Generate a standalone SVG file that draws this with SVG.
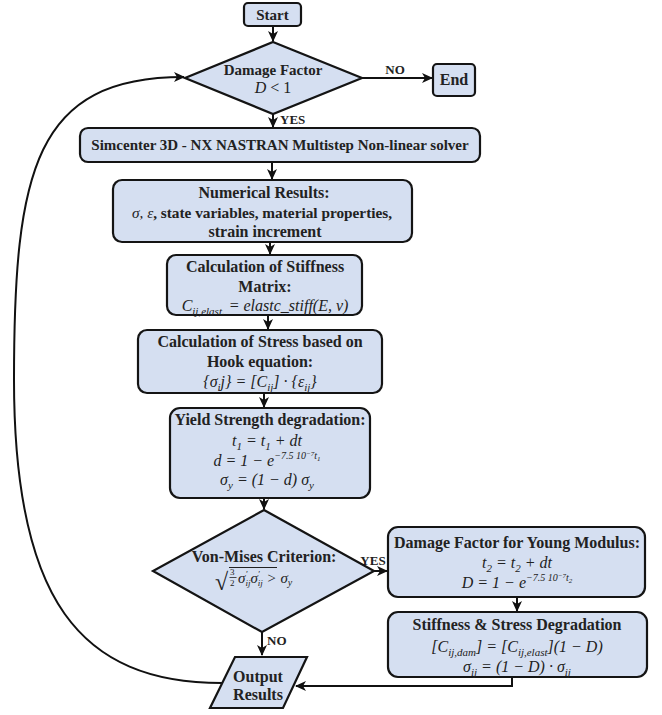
<svg xmlns="http://www.w3.org/2000/svg" width="662" height="715" viewBox="0 0 662 715">
<style>
.n{fill:#d5dff1;stroke:#141414;stroke-width:2.2;}
.t{font-family:"Liberation Serif",serif;font-weight:bold;font-size:16px;fill:#222;text-anchor:middle;}
.m{font-family:"Liberation Serif",serif;font-style:italic;font-weight:normal;font-size:16px;fill:#222;text-anchor:middle;}
.i{font-style:italic;font-weight:normal;}
.c{fill:none;stroke:#111;stroke-width:2;}
.l{font-family:"Liberation Serif",serif;font-weight:bold;font-size:13px;fill:#222;}
</style>
<defs>
<marker id="a" markerWidth="11" markerHeight="10" refX="10" refY="5" orient="auto" markerUnits="userSpaceOnUse"><path d="M0,0 L11,5 L0,10 L3,5z" fill="#111"/></marker>
</defs>
<g id="connectors">
<path class="c" d="M273,26 V41" marker-end="url(#a)"/>
<path class="c" d="M362,78 H432" marker-end="url(#a)"/>
<path class="c" d="M273,114 V127" marker-end="url(#a)"/>
<path class="c" d="M272,162 V179" marker-end="url(#a)"/>
<path class="c" d="M270,242 V254" marker-end="url(#a)"/>
<path class="c" d="M268,315 V329" marker-end="url(#a)"/>
<path class="c" d="M264,393 V407" marker-end="url(#a)"/>
<path class="c" d="M264,498 V509" marker-end="url(#a)"/>
<path class="c" d="M373,571 H387" marker-end="url(#a)"/>
<path class="c" d="M517,597 V611" marker-end="url(#a)"/>
<path class="c" d="M262,632 V655" marker-end="url(#a)"/>
<path class="c" d="M512,677 V686 H296" marker-end="url(#a)"/>
<path class="c" d="M222,683 C80,683 14,600 14,380 C14,170 35,77 184,77" marker-end="url(#a)"/>
<text class="l" x="395" y="74" text-anchor="middle">NO</text>
<text class="l" x="280" y="124">YES</text>
<text class="l" x="373" y="565" text-anchor="middle">YES</text>
<text class="l" x="267" y="645">NO</text>
</g>
<g id="start">
<rect class="n" x="244" y="3" width="57" height="23" rx="4"/>
<text class="t" x="272.5" y="19.5" style="font-size:15px">Start</text>
</g>
<g id="damage-factor">
<polygon class="n" points="273,42 362,78 273,114 185,78"/>
<text class="t" x="273" y="75" style="font-size:15px">Damage Factor</text>
<text class="m" x="273" y="93"><tspan>D</tspan><tspan font-style="normal"> &lt; 1</tspan></text>
</g>
<g id="end">
<rect class="n" x="433" y="64" width="42" height="32" rx="4"/>
<text class="t" x="454" y="85">End</text>
</g>
<g id="solver">
<rect class="n" x="80" y="128" width="400" height="34" rx="8"/>
<text class="t" x="280" y="150" style="font-size:15px">Simcenter 3D - NX NASTRAN Multistep Non-linear solver</text>
</g>
<g id="numerical-results">
<rect class="n" x="113" y="180" width="299" height="62" rx="9"/>
<text class="t" x="264" y="198">Numerical Results:</text>
<text class="t" x="262" y="218" style="font-size:15.3px"><tspan class="i">σ, ε</tspan>, state variables, material properties,</text>
<text class="t" x="265" y="237">strain increment</text>
</g>
<g id="stiffness-matrix">
<rect class="n" x="167" y="255" width="195" height="60" rx="9"/>
<text class="t" x="265" y="272">Calculation of Stiffness</text>
<text class="t" x="265" y="292">Matrix:</text>
<text class="m" x="265" y="311">C<tspan dy="4" font-size="11">ij,elast.</tspan><tspan dy="-4"> = elastc_stiff(E, ν)</tspan></text>
</g>
<g id="hook-stress">
<rect class="n" x="138" y="330" width="244" height="63" rx="9"/>
<text class="t" x="260" y="347">Calculation of Stress based on</text>
<text class="t" x="260" y="367">Hook equation:</text>
<text class="m" x="260" y="387">{σ<tspan dy="4" font-size="11">i</tspan><tspan dy="-4">j} = [C</tspan><tspan dy="4" font-size="11">ij</tspan><tspan dy="-4">] · {ε</tspan><tspan dy="4" font-size="11">ij</tspan><tspan dy="-4">}</tspan></text>
</g>
<g id="yield-degradation">
<rect class="n" x="170" y="408" width="200" height="90" rx="10"/>
<text class="t" x="270" y="425">Yield Strength degradation:</text>
<text class="m" x="267" y="446">t<tspan dy="4" font-size="11">1</tspan><tspan dy="-4"> = t</tspan><tspan dy="4" font-size="11">1</tspan><tspan dy="-4"> + dt</tspan></text>
<text class="m" x="267" y="466">d = 1 − e<tspan dy="-7" font-size="10">−7.5 10</tspan><tspan dy="-3" font-size="7">−7</tspan><tspan dy="3" font-size="10">t</tspan><tspan dy="2" font-size="7">1</tspan></text>
<text class="m" x="267" y="485">σ<tspan dy="4" font-size="11">y</tspan><tspan dy="-4"> = (1 − d) σ</tspan><tspan dy="4" font-size="11">y</tspan></text>
</g>
<g id="von-mises">
<polygon class="n" points="264,510 374,571 262,632 153,571"/>
<text class="t" x="264" y="562">Von-Mises Criterion:</text>
<text x="215" y="590" font-family="Liberation Serif, serif" font-size="24" fill="#222">√</text>
<path d="M229,567.5 H277" stroke="#222" stroke-width="1.1"/>
<text x="230" y="575" font-family="Liberation Serif, serif" font-size="9" fill="#222">3</text>
<path d="M229.5,577.5 H236.5" stroke="#222" stroke-width="0.8"/>
<text x="230" y="586" font-family="Liberation Serif, serif" font-size="9" fill="#222">2</text>
<text x="238" y="583" font-family="Liberation Serif, serif" font-style="italic" font-size="15" fill="#222">σ<tspan dy="-6" font-size="9">′</tspan><tspan dy="9" dx="-2" font-size="9">ij</tspan><tspan dy="-3">σ</tspan><tspan dy="-6" font-size="9">′</tspan><tspan dy="9" dx="-2" font-size="9">ij</tspan><tspan dy="-3"> &gt; σ</tspan><tspan dy="3" font-size="10">y</tspan></text>
</g>
<g id="damage-young">
<rect class="n" x="388" y="527" width="257" height="70" rx="10"/>
<text class="t" x="517" y="548">Damage Factor for Young Modulus:</text>
<text class="m" x="517" y="568">t<tspan dy="4" font-size="11">2</tspan><tspan dy="-4"> = t</tspan><tspan dy="4" font-size="11">2</tspan><tspan dy="-4"> + dt</tspan></text>
<text class="m" x="517" y="588">D = 1 − e<tspan dy="-7" font-size="10">−7.5 10</tspan><tspan dy="-3" font-size="7">−7</tspan><tspan dy="3" font-size="10">t</tspan><tspan dy="2" font-size="7">2</tspan></text>
</g>
<g id="stiffness-stress-degradation">
<rect class="n" x="388" y="612" width="259" height="65" rx="10"/>
<text class="t" x="517" y="630">Stiffness &amp; Stress Degradation</text>
<text class="m" x="517" y="652">[C<tspan dy="4" font-size="11">ij,dam</tspan><tspan dy="-4">] = [C</tspan><tspan dy="4" font-size="11">ij,elast</tspan><tspan dy="-4">](1 − D)</tspan></text>
<text class="m" x="517" y="672">σ<tspan dy="4" font-size="11">ij</tspan><tspan dy="-4"> = (1 − D) · σ</tspan><tspan dy="4" font-size="11">ij</tspan></text>
</g>
<g id="output-results">
<polygon class="n" points="235,657 307,657 283,708 210,708"/>
<text class="t" x="258" y="682">Output</text>
<text class="t" x="258" y="700">Results</text>
</g>
</svg>
